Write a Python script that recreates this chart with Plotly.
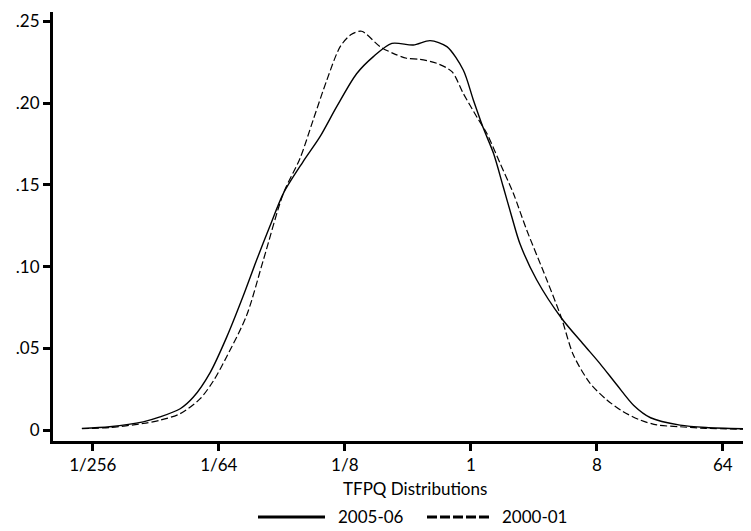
import plotly.graph_objects as go

# x: log2 TFPQ (axis units), y: kernel density
x_2005 = [-9.26, -8.6, -7.8, -7.4, -6.92, -6.61, -6.21, -5.81, -5.42, -5.10, -4.78, -4.46,
          -4.0, -3.59, -3.19, -2.72, -2.32, -1.88, -1.37, -0.97, -0.57, -0.18, 0.06, 0.30,
          0.54, 0.77, 0.97, 1.17, 1.57, 2.16, 2.68, 3.08, 3.48, 3.88, 4.28, 4.98, 5.6, 6.53]
y_2005 = [0.001, 0.002, 0.005, 0.008, 0.013, 0.020, 0.035, 0.057, 0.082, 0.104, 0.125, 0.145,
          0.164, 0.1795, 0.198, 0.218, 0.2285, 0.2366, 0.2356, 0.2383, 0.2346, 0.2203, 0.202, 0.1846,
          0.1693, 0.149, 0.131, 0.114, 0.0918, 0.0684, 0.0525, 0.0405, 0.0275, 0.0150, 0.0075, 0.003, 0.0015, 0.0007]

x_2000 = [-9.26, -8.6, -7.8, -7.4, -6.92, -6.45, -6.13, -5.81, -5.34, -4.94, -4.46, -4.07,
          -3.75, -3.43, -3.11, -2.85, -2.60, -2.16, -1.85, -1.53, -1.21, -0.81, -0.45, -0.18,
          0.14, 0.38, 0.70, 1.01, 1.33, 1.81, 2.16, 2.44, 2.84, 3.24, 3.63, 4.03, 4.43, 4.98, 5.6, 6.53]
y_2000 = [0.0008, 0.0015, 0.004, 0.006, 0.010, 0.019, 0.030, 0.045, 0.070, 0.104, 0.145, 0.166,
          0.190, 0.214, 0.2346, 0.242, 0.244, 0.2346, 0.2305, 0.2275, 0.2268, 0.2244, 0.2193, 0.206,
          0.1917, 0.1816, 0.163, 0.145, 0.1224, 0.0918, 0.0684, 0.046, 0.0286, 0.0184, 0.0112, 0.0061,
          0.0031, 0.002, 0.001, 0.0005]

series_names = ["2005-06", "2000-01"]
x_tick_pos = [-9, -6, -3, 0, 3, 6]
x_tick_text = ["1/256", "1/64", "1/8", "1", "8", "64"]
y_tick_vals = [0, 0.05, 0.10, 0.15, 0.20, 0.25]
y_tick_text = ["0", ".05", ".10", ".15", ".20", ".25"]
x_title = "TFPQ Distributions"

FONT = "Lato"
fig = go.Figure()
fig.add_trace(go.Scatter(x=x_2005, y=y_2005, mode="lines", name=series_names[0], showlegend=False,
                         line=dict(color="black", width=1.4, shape="spline", smoothing=0.8)))
fig.add_trace(go.Scatter(x=x_2000, y=y_2000, mode="lines", name=series_names[1], showlegend=False,
                         line=dict(color="black", width=1.2, dash="7px,3px", shape="spline", smoothing=0.8)))

# page pixels (the page body has an 8px margin): plot area left 53, right 751, top 12, bottom 441
def py(ypx):
    return (441 - ypx) / 429.0

def px(xpx):
    return (xpx - 53) / 698.0

legend_y = py(517)
shapes = [
    dict(type="line", xref="paper", yref="paper", x0=px(258), x1=px(325), y0=legend_y, y1=legend_y,
         line=dict(color="black", width=3)),
    dict(type="line", xref="paper", yref="paper", x0=px(427), x1=px(490), y0=legend_y, y1=legend_y,
         line=dict(color="black", width=3, dash="10px,3px")),
]
annotations = [
    dict(text=x_title, x=px(415), y=py(488), xref="paper", yref="paper",
         xanchor="center", yanchor="middle", showarrow=False, font=dict(family=FONT, size=17)),
    dict(text=series_names[0], x=px(336), y=py(516), xref="paper", yref="paper",
         xanchor="left", yanchor="middle", showarrow=False, font=dict(family=FONT, size=17)),
    dict(text=series_names[1], x=px(500), y=py(516), xref="paper", yref="paper",
         xanchor="left", yanchor="middle", showarrow=False, font=dict(family=FONT, size=17)),
]

fig.update_layout(
    width=743, height=523,
    margin=dict(l=45, r=0, t=4, b=90),
    paper_bgcolor="white", plot_bgcolor="white",
    font=dict(family=FONT, size=17, color="black"),
    showlegend=False,
    shapes=shapes,
    annotations=annotations,
)
fig.update_xaxes(range=[-9.948, 6.671], tickvals=x_tick_pos, ticktext=x_tick_text, automargin=False,
                 showgrid=False, zeroline=False, showline=True, linewidth=3, linecolor="black",
                 ticks="outside", ticklen=7, tickwidth=3, tickcolor="black")
fig.update_yaxes(range=[-0.00673, 0.2558], tickvals=y_tick_vals, ticktext=y_tick_text, automargin=False,
                 showgrid=False, zeroline=False, showline=True, linewidth=3, linecolor="black",
                 ticks="outside", ticklen=7, tickwidth=3, tickcolor="black")

fig.write_html("out.html")
